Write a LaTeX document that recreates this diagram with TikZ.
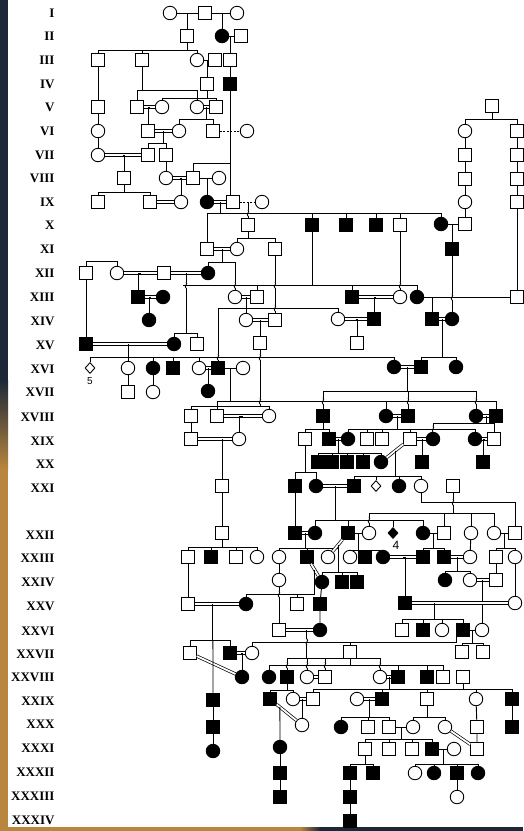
\documentclass[tikz,border=0pt]{standalone}
\usepackage{fontspec}
\setmainfont{Liberation Serif}
\newfontfamily\numfont{Liberation Sans}
\usetikzlibrary{positioning,calc,shapes.geometric}
\definecolor{frameblue}{HTML}{1C2838}
\definecolor{framebrown}{HTML}{B9863F}

\begin{document}
\begin{tikzpicture}[x=1pt,y=-1pt,line width=0.9pt,
  sq/.style={draw,fill=white,minimum size=12.5pt,inner sep=0pt},
  sqa/.style={sq,fill=black},
  ci/.style={draw,circle,fill=white,minimum size=13.5pt,inner sep=0pt},
  cia/.style={ci,fill=black},
  dia/.style={draw,diamond,fill=white,minimum width=10pt,minimum height=11pt,inner sep=0pt},
  diaa/.style={dia,fill=black},
  mar/.style={double,double distance=1.8pt,line width=0.7pt},
  maybe/.style={dash pattern=on 2pt off 1.5pt},
  hop/.pic={\fill[white] (-2.2,-3.2) rectangle (2.2,3.2);
    \draw (-2.6,0) -- (2.6,0);
    \draw (0,-3.2) .. controls (2.6,-1.2) and (-2.6,1.2) .. (0,3.2);},
  gen/.style={anchor=east,inner sep=0pt,font=\bfseries\fontsize{13}{13}\selectfont}]
\useasboundingbox (0,0) rectangle (523,831);
\fill[white] (0,0) rectangle (523,831);
\fill[frameblue] (0,0) rectangle (8,380);
\shade[top color=frameblue,bottom color=framebrown] (0,380) rectangle (8,470);
\fill[framebrown] (0,470) rectangle (8,831);
\fill[framebrown] (0,827) rectangle (300,831);
\shade[left color=framebrown,right color=frameblue] (300,827) rectangle (320,831);
\fill[frameblue] (320,827) rectangle (523,831);

\foreach \g/\y in {I/13,II/36,III/60,IV/84,V/107,VI/131,VII/155,VIII/178,IX/202,X/225,
  XI/249,XII/273,XIII/297,XIV/321,XV/345,XVI/369,XVII/392,XVIII/417,XIX/441,XX/464,XXI/488,
  XXII/535,XXIII/558,XXIV/582,XXV/606,XXVI/631,XXVII/654,XXVIII/677,XXIX/701,XXX/724,
  XXXI/748,XXXII/772,XXXIII/796,XXXIV/820}
  \node[gen] (g\g) at (55,\y) {\g};

\node[ci] (c1a) at (170,13) {};
\node[sq] (s1a) at (205,13) {};
\node[ci] (c1b) at (237,13) {};
\node[sq] (s2a) at (187,36) {};
\node[cia] (c2a) at (222,36) {};
\node[sq] (s2b) at (241,36) {};
\node[sq] (s3a) at (98,60) {};
\node[sq] (s3b) at (142,60) {};
\node[ci] (c3a) at (197,60) {};
\node[sq] (s3c) at (215,60) {};
\node[sq] (s3d) at (230,60) {};
\node[sq] (s4a) at (207,84) {};
\node[sqa] (s4b) at (230,84) {};
\node[sq] (s5a) at (98,107) {};
\node[sq] (s5b) at (137,107) {};
\node[ci] (c5a) at (162,107) {};
\node[ci] (c5b) at (197,107) {};
\node[sq] (s5c) at (216,107) {};
\node[sq] (s5d) at (492,106) {};
\node[ci] (c6a) at (98,131) {};
\node[sq] (s6a) at (148,131) {};
\node[ci] (c6b) at (179,131) {};
\node[sq] (s6b) at (213,131) {};
\node[ci] (c6c) at (247,131) {};
\node[ci] (c6d) at (465,131) {};
\node[sq] (s6c) at (517,131) {};
\node[ci] (c7a) at (98,155) {};
\node[sq] (s7a) at (148,155) {};
\node[sq] (s7b) at (166,155) {};
\node[sq] (s7c) at (465,155) {};
\node[sq] (s7d) at (517,155) {};
\node[sq] (s8a) at (124,178) {};
\node[ci] (c8a) at (166,178) {};
\node[sq] (s8b) at (193,178) {};
\node[ci] (c8b) at (219,178) {};
\node[sq] (s8c) at (465,179) {};
\node[sq] (s8d) at (517,179) {};
\node[sq] (s9a) at (98,202) {};
\node[sq] (s9b) at (150,202) {};
\node[ci] (c9a) at (181,202) {};
\node[cia] (c9b) at (207,202) {};
\node[sq] (s9c) at (233,202) {};
\node[ci] (c9c) at (262,202) {};
\node[ci] (c9d) at (465,202) {};
\node[sq] (s9d) at (517,202) {};
\node[sq] (s10a) at (248,225) {};
\node[sqa] (s10b) at (312,225) {};
\node[sqa] (s10c) at (346,225) {};
\node[sqa] (s10d) at (376,225) {};
\node[sq] (s10e) at (400,225) {};
\node[cia] (c10a) at (441,224) {};
\node[sq] (s10f) at (465,224) {};
\node[sq] (s11a) at (207,249) {};
\node[ci] (c11a) at (237,249) {};
\node[sq] (s11b) at (275,249) {};
\node[sqa] (s11c) at (452,249) {};
\node[sq] (s12a) at (86,273) {};
\node[ci] (c12a) at (117,273) {};
\node[sq] (s12b) at (164,273) {};
\node[cia] (c12b) at (208,273) {};
\node[sqa] (s13a) at (138,297) {};
\node[cia] (c13a) at (163,297) {};
\node[ci] (c13b) at (235,297) {};
\node[sq] (s13b) at (257,297) {};
\node[sqa] (s13c) at (352,297) {};
\node[ci] (c13c) at (400,297) {};
\node[cia] (c13d) at (417,297) {};
\node[sq] (s13d) at (517,297) {};
\node[cia] (c14a) at (149,320) {};
\node[ci] (c14b) at (246,320) {};
\node[sq] (s14a) at (275,320) {};
\node[ci] (c14c) at (338,319) {};
\node[sqa] (s14b) at (374,319) {};
\node[sqa] (s14c) at (432,319) {};
\node[cia] (c14d) at (452,319) {};
\node[sqa] (s15a) at (86,344) {};
\node[cia] (c15a) at (174,344) {};
\node[sq] (s15b) at (197,344) {};
\node[sq] (s15c) at (260,343) {};
\node[sq] (s15d) at (357,343) {};
\node[dia] (d16a) at (90,368) {};
\node[ci] (c16a) at (128,368) {};
\node[cia] (c16b) at (153,368) {};
\node[sqa] (s16a) at (173,368) {};
\node[ci] (c16c) at (199,368) {};
\node[sqa] (s16b) at (218,368) {};
\node[ci] (c16d) at (243,368) {};
\node[cia] (c16e) at (394,367) {};
\node[sqa] (s16c) at (421,367) {};
\node[cia] (c16f) at (456,367) {};
\node[sq] (s17a) at (128,392) {};
\node[ci] (c17a) at (153,392) {};
\node[cia] (c17b) at (208,391) {};
\node[sq] (s18a) at (191,416) {};
\node[sq] (s18b) at (217,416) {};
\node[ci] (c18a) at (269,416) {};
\node[sqa] (s18c) at (323,416) {};
\node[cia] (c18b) at (386,416) {};
\node[sqa] (s18d) at (408,416) {};
\node[cia] (c18c) at (476,416) {};
\node[sqa] (s18e) at (496,416) {};
\node[sq] (s19a) at (191,439) {};
\node[ci] (c19a) at (239,439) {};
\node[sq] (s19b) at (305,439) {};
\node[sqa] (s19c) at (329,439) {};
\node[cia] (c19b) at (348,439) {};
\node[sq] (s19d) at (367,439) {};
\node[sq] (s19e) at (382,439) {};
\node[sq] (s19f) at (410,439) {};
\node[cia] (c19c) at (433,439) {};
\node[cia] (c19d) at (475,439) {};
\node[sq] (s19g) at (494,439) {};
\node[sqa] (s20a) at (318,462) {};
\node[sqa] (s20b) at (332,462) {};
\node[sqa] (s20c) at (347,462) {};
\node[sqa] (s20d) at (363,462) {};
\node[cia] (c20a) at (381,462) {};
\node[sqa] (s20e) at (422,462) {};
\node[sqa] (s20f) at (483,462) {};
\node[sq] (s21a) at (222,486) {};
\node[sqa] (s21b) at (295,486) {};
\node[cia] (c21a) at (316,486) {};
\node[sqa] (s21c) at (354,486) {};
\node[dia] (d21a) at (376,486) {};
\node[cia] (c21b) at (399,486) {};
\node[ci] (c21c) at (421,486) {};
\node[sq] (s21d) at (453,486) {};
\node[sq] (s22a) at (222,533) {};
\node[sqa] (s22b) at (295,533) {};
\node[cia] (c22a) at (315,533) {};
\node[sqa] (s22c) at (348,533) {};
\node[ci] (c22b) at (369,533) {};
\node[diaa] (d22a) at (393,533) {};
\node[cia] (c22c) at (423,533) {};
\node[sq] (s22d) at (444,533) {};
\node[ci] (c22d) at (471,533) {};
\node[ci] (c22e) at (494,533) {};
\node[sq] (s22e) at (515,533) {};
\node[sq] (s23a) at (188,557) {};
\node[sqa] (s23b) at (211,557) {};
\node[sq] (s23c) at (236,557) {};
\node[ci] (c23a) at (257,557) {};
\node[ci] (c23b) at (279,557) {};
\node[sqa] (s23d) at (307,557) {};
\node[ci] (c23c) at (328,557) {};
\node[ci] (c23d) at (350,557) {};
\node[sqa] (s23e) at (365,557) {};
\node[cia] (c23e) at (383,557) {};
\node[sqa] (s23f) at (423,557) {};
\node[sqa] (s23g) at (444,557) {};
\node[ci] (c23f) at (470,557) {};
\node[sq] (s23h) at (496,557) {};
\node[ci] (c23g) at (515,557) {};
\node[ci] (c24a) at (279,580) {};
\node[cia] (c24b) at (322,582) {};
\node[sqa] (s24a) at (342,582) {};
\node[sqa] (s24b) at (357,582) {};
\node[cia] (c24c) at (445,580) {};
\node[ci] (c24d) at (470,580) {};
\node[sq] (s24c) at (496,580) {};
\node[sq] (s25a) at (188,604) {};
\node[cia] (c25a) at (246,604) {};
\node[sq] (s25b) at (297,604) {};
\node[sqa] (s25c) at (320,604) {};
\node[sqa] (s25d) at (405,603) {};
\node[ci] (c25b) at (515,603) {};
\node[sq] (s26a) at (279,630) {};
\node[cia] (c26a) at (320,630) {};
\node[sq] (s26b) at (402,630) {};
\node[sqa] (s26c) at (423,630) {};
\node[ci] (c26b) at (442,630) {};
\node[sqa] (s26d) at (463,630) {};
\node[ci] (c26c) at (482,630) {};
\node[sq] (s27a) at (190,653) {};
\node[sqa] (s27b) at (230,653) {};
\node[ci] (c27a) at (252,653) {};
\node[sq] (s27c) at (350,652) {};
\node[sq] (s27d) at (462,652) {};
\node[sq] (s27e) at (483,652) {};
\node[cia] (c28a) at (242,677) {};
\node[cia] (c28b) at (269,677) {};
\node[sqa] (s28a) at (287,677) {};
\node[ci] (c28c) at (307,677) {};
\node[sq] (s28b) at (325,677) {};
\node[ci] (c28d) at (380,677) {};
\node[sqa] (s28c) at (398,677) {};
\node[sqa] (s28d) at (427,677) {};
\node[sq] (s28e) at (443,677) {};
\node[sq] (s28f) at (463,677) {};
\node[sqa] (s29a) at (213,700) {};
\node[sqa] (s29b) at (270,699) {};
\node[ci] (c29a) at (293,699) {};
\node[sq] (s29c) at (313,699) {};
\node[ci] (c29b) at (357,699) {};
\node[sqa] (s29d) at (382,699) {};
\node[sq] (s29e) at (427,699) {};
\node[ci] (c29c) at (476,699) {};
\node[sqa] (s29f) at (512,699) {};
\node[sqa] (s30a) at (213,727) {};
\node[ci] (c30a) at (302,725) {};
\node[cia] (c30b) at (341,727) {};
\node[sq] (s30b) at (368,727) {};
\node[sq] (s30c) at (389,727) {};
\node[ci] (c30c) at (413,727) {};
\node[ci] (c30d) at (445,727) {};
\node[sq] (s30d) at (477,727) {};
\node[sqa] (s30e) at (512,727) {};
\node[cia] (c31a) at (213,751) {};
\node[cia] (c31b) at (280,747) {};
\node[sq] (s31a) at (365,749) {};
\node[sq] (s31b) at (389,749) {};
\node[sq] (s31c) at (412,749) {};
\node[sqa] (s31d) at (432,749) {};
\node[ci] (c31c) at (454,749) {};
\node[sq] (s31e) at (477,749) {};
\node[sqa] (s32a) at (280,773) {};
\node[sqa] (s32b) at (350,773) {};
\node[sqa] (s32c) at (373,773) {};
\node[ci] (c32a) at (415,773) {};
\node[cia] (c32b) at (434,773) {};
\node[sqa] (s32d) at (457,773) {};
\node[cia] (c32c) at (478,773) {};
\node[sqa] (s33a) at (280,797) {};
\node[sqa] (s33b) at (350,797) {};
\node[ci] (c33a) at (457,797) {};
\node[sqa] (s34a) at (350,821) {};
\node[inner sep=0pt,font=\numfont\fontsize{10}{10}\selectfont] (n5) at (90,381) {5};
\node[inner sep=0pt,font=\numfont\fontsize{12}{12}\selectfont] (n4) at (396,545) {4};

\coordinate (m12) at ($(s12b)!.5!(c12b)$);
\coordinate (m13) at ($(c13b)!.5!(s13b)$);
\coordinate (m16) at ($(c16e)!.5!(s16c)$);
\coordinate (m16b) at ($(s16b)!.5!(c16d)$);
\coordinate (m20) at ($(c20a)!.5!(s19f)$);
\coordinate (m22) at ($(s22c)!.5!(c23c)$);
\coordinate (m23) at ($(s23d)!.5!(c24b)$);
\coordinate (m25) at ($(s25d)!.27!(c25b)$);
\coordinate (m25a) at ($(s25a)!.43!(c25a)$);
\coordinate (m26) at ($(s26a)!.68!(c26a)$);
\coordinate (m29) at ($(s29b)!.31!(c30a)$);

\draw (c1a) -- (s1a) -- (c1b);
\draw (s2a) |- ($(c1a)!.5!(s1a)$);
\draw (c2a) |- ($(s1a)!.5!(c1b)$);
\draw (c2a) -- (s2b);
\draw (s3d) |- ($(c2a)!.5!(s2b)$);
\draw (s2a) -- (s2a |- 0,50);
\draw (s3a |- 0,50) -- (c3a |- 0,50);
\foreach \k in {s3a,s3b,c3a} \draw (\k) -- (\k |- 0,50);
\draw (c3a) -- (s3c);
\draw (s4a) |- ($(c3a)!.5!(s3c)$);
\draw (s3d) -- (s4b);
\draw (s3a) -- (s5a) -- (c6a) -- (c7a);
\draw (s3b) -- (s3b |- 0,90);
\draw (s5b |- 0,90) -- (c5b |- 0,90);
\foreach \k in {s5b,c5b} \draw (\k) -- (\k |- 0,90);
\draw (s4a) -- (s4a |- 0,98);
\draw (c5a |- 0,98) -- (s5c |- 0,98);
\foreach \k in {c5a,s5c} \draw (\k) -- (\k |- 0,98);
\draw[mar] (s5b) -- (c5a);
\draw[mar] (c5b) -- (s5c);
\draw (s6a) |- ($(s5b)!.5!(c5a)$);
\draw ($(c5b)!.5!(s5c)$) -- ++(0,12);
\draw (c6b |- 0,119) -- (s6b |- 0,119);
\foreach \k in {c6b,s6b} \draw (\k) -- (\k |- 0,119);
\draw (s4b) -- (s4b |- 0,163) -| (s8b);
\draw (s4b |- 0,163) -- (s4b |- s9c.north);
\draw[maybe] (s6b) -- (c6c);
\draw[mar] (s6a) -- (c6b);
\draw ($(s6a)!.5!(c6b)$) -- ++(0,12);
\draw (s7a |- 0,143) -- (s7b |- 0,143);
\foreach \k in {s7a,s7b} \draw (\k) -- (\k |- 0,143);
\draw[mar] (c7a) -- (s7a);
\draw (s8a) |- ($(c7a)!.5!(s7a)$);
\draw (s8a) -- (s8a |- 0,192);
\draw (s9a |- 0,192) -- (s9b |- 0,192);
\foreach \k in {s9a,s9b} \draw (\k) -- (\k |- 0,192);
\draw (s7b) -- (c8a);
\draw[mar] (c8a) -- (s8b);
\draw (c9a) |- ($(c8a)!.5!(s8b)$);
\draw (s8b) -- (c8b);
\draw (c9b) |- ($(s8b)!.5!(c8b)$);
\draw[mar] (s9b) -- (c9a);
\draw[mar] (c9b) -- (s9c);
\draw[maybe] (s9c) -- (c9c);

\draw (s5d) -- (s5d |- 0,119);
\draw (c6d |- 0,119) -- (s6c |- 0,119);
\foreach \k in {c6d,s6c} \draw (\k) -- (\k |- 0,119);
\draw (c6d) -- (s7c) -- (s8c) -- (c9d) -- (s10f);
\draw (s6c) -- (s7d) -- (s8d) -- (s9d) -- (s13d);

\draw ($(c9b)!.5!(s9c)$) -- ++(0,11);
\draw (s11a |- 0,213) -- (c10a |- 0,213);
\foreach \k in {s11a,s10b,s10c,s10d,s10e,c10a} \draw (\k) -- (\k |- 0,213);
\draw (s10a) |- ($(s9c)!.5!(c9c)$);
\draw (s10a) -- (s10a |- 0,238);
\draw (c11a |- 0,238) -- (s11b |- 0,238);
\foreach \k in {c11a,s11b} \draw (\k) -- (\k |- 0,238);
\draw (c10a) -- (s10f);
\draw (s11c) |- ($(c10a)!.5!(s10f)$);
\draw (s11c) -- (c14d);

\draw[mar] (s11a) -- (c11a);
\draw ($(s11a)!.5!(c11a)$) -- ++(0,13);
\draw (c12b |- 0,262) -- (c13b |- 0,262);
\foreach \k in {c12b,c13b} \draw (\k) -- (\k |- 0,262);
\draw (s12a) -- (s12a |- 0,261) -- (c12a |- 0,261) -- (c12a);
\draw[mar] (c12a) -- (s12b);
\draw[mar] (s12b) -- (c12b);
\draw (s13a) |- ($(c12a)!.5!(s12b)$);
\draw[mar] (s13a) -- (c13a);
\draw (c14a) |- ($(s13a)!.5!(c13a)$);
\draw (s12a) -- (s15a);
\draw (m12) -- (m12 |- 0,333);
\draw (c15a |- 0,333) -- (s15b |- 0,333);
\foreach \k in {c15a,s15b} \draw (\k) -- (\k |- 0,333);

\draw (s10b) -- (s10b |- 0,285);
\draw (m12 |- 0,285) -- (c13d |- 0,285);
\foreach \k in {s13b,s13c,c13d} \draw (\k) -- (\k |- 0,285);
\draw (s10e) -- (c13c);
\draw[mar] (c13b) -- (s13b);
\draw[mar] (s13c) -- (c13c);
\draw (s14b) |- ($(s13c)!.5!(c13c)$);
\draw (c13d) -- (s13d);
\draw (s14c) |- (c13d);
\draw (m13) -- (c14b);
\draw (s16b |- 0,308) -- (c14c |- 0,308);
\foreach \k in {s16b,c14c} \draw (\k) -- (\k |- 0,308);
\draw (s11b) -- (s14a);
\draw[mar] (c14b) -- (s14a);
\draw (s15c) |- ($(c14b)!.5!(s14a)$);
\draw[mar] (c14c) -- (s14b);
\draw (s15d) |- ($(c14c)!.5!(s14b)$);
\draw[mar] (s14c) -- (c14d);
\draw ($(s14c)!.5!(c14d)$) -- ++(0,38);
\draw (s16c |- 0,357) -- (c16f |- 0,357);
\foreach \k in {s16c,c16f} \draw (\k) -- (\k |- 0,357);

\draw[mar] (s15a) -- (c15a);
\draw (c16a |- s15a) -- (c16a |- 0,357);
\draw (d16a |- 0,357) -- (c16e |- 0,357);
\foreach \k in {d16a,c16a,c16b,s16a,c16c,c16e} \draw (\k) -- (\k |- 0,357);
\draw[mar] (c16c) -- (s16b);
\draw (c17b) |- ($(c16c)!.5!(s16b)$);
\draw (s16b) -- (c16d);
\draw[mar] (c16e) -- (s16c);
\draw (c16a) -- (s17a);
\draw (c16b) -- (c17a);

\draw (m16) -- (m16 |- 0,391);
\draw (s18c |- 0,391) -- (c18c |- 0,391);
\foreach \k in {s18c,s18d,c18c} \draw (\k) -- (\k |- 0,391);
\draw (m16b) -- (m16b |- 0,401);
\draw (s15c) -- (s15c |- 0,406);
\draw (s18a |- 0,406) -- (c18a |- 0,406);
\foreach \k in {s18a,s18b,c18a} \draw (\k) -- (\k |- 0,406);
\draw (s18b |- 0,406) -- (s18b |- 0,401) -- (s18e |- 0,401);
\foreach \k in {c18b,s18e} \draw (\k) -- (\k |- 0,401);
\draw[mar] (s18b) -- (c18a);
\draw (c19a) |- ($(s18b)!.5!(c18a)$);
\draw (s18a) -- (s19a);
\draw[mar] (s19a) -- (c19a);
\draw (s21a) -- (s21a |- s19a);
\draw (s21a) -- (s22a);
\draw (s22a) -- (s22a |- 0,547);
\draw (s23a |- 0,547) -- (c23a |- 0,547);
\foreach \k in {s23a,s23b,s23c,c23a} \draw (\k) -- (\k |- 0,547);

\draw (s18c) -- (s18c |- 0,429);
\draw (s19b |- 0,429) -- (s19c |- 0,429);
\foreach \k in {s19b,s19c} \draw (\k) -- (\k |- 0,429);
\draw[mar] (c18b) -- (s18d);
\draw ($(c18b)!.5!(s18d)$) -- ++(0,13);
\draw (c19b |- 0,429) -- (c19d |- 0,429);
\foreach \k in {c19b,s19d,s19e,s19f,c19d} \draw (\k) -- (\k |- 0,429);
\draw[mar] (c18c) -- (s18e);
\draw ($(c18c)!.5!(s18e)$) -- ++(0,7);
\draw (c19c |- 0,423) -- (s19g |- 0,423);
\foreach \k in {c19c,s19g} \draw (\k) -- (\k |- 0,423);
\draw[mar] (s19c) -- (c19b);
\draw ($(s19c)!.5!(c19b)$) -- ++(0,14);
\draw (s20a |- 0,453) -- (c20a |- 0,453);
\foreach \k in {s20a,s20b,s20c,s20d,c20a} \draw (\k) -- (\k |- 0,453);
\draw[mar] (c20a) -- (s19f);
\draw[mar] (s19f) -- (c19c);
\draw (s20e) |- ($(s19f)!.5!(c19c)$);
\draw[mar] (c19d) -- (s19g);
\draw (s20f) |- ($(c19d)!.5!(s19g)$);

\draw (m20) -- (m20 |- 0,476);
\draw (s21c |- 0,476) -- (c21c |- 0,476);
\foreach \k in {s21c,d21a,c21b,c21c} \draw (\k) -- (\k |- 0,476);
\draw (s19b) -- (s19b |- 0,472);
\draw (s21b |- 0,472) -- (c21a |- 0,472);
\foreach \k in {s21b,c21a} \draw (\k) -- (\k |- 0,472);
\draw[mar] (c21a) -- (s21c);
\draw (s21b) -- (s22b);
\draw ($(c21a)!.5!(s21c)$) -- ++(0,34);
\draw (c22a |- 0,520) -- (c22c |- 0,520);
\foreach \k in {c22a,s22c,d22a,c22c} \draw (\k) -- (\k |- 0,520);
\draw (s21d) -- (s21d |- 0,513);
\draw (c22b |- 0,513) -- (c22e |- 0,513);
\foreach \k in {c22b,s22d,c22d,c22e} \draw (\k) -- (\k |- 0,513);
\draw (c21c) |- (s22e |- 0,502) -- (s22e);

\draw[mar] (s22b) -- (c22a);
\draw ($(s22b)!.5!(c22a)$) -- ++(0,15);
\draw (c23b |- 0,548) -- (m22 |- 0,548);
\foreach \k in {c23b,s23d} \draw (\k) -- (\k |- 0,548);
\draw[mar] (s22c) -- (c23c);
\draw (m22) -- (m22 |- 0,572);
\draw (c24b |- 0,572) -- (s24b |- 0,572);
\foreach \k in {c24b,s24a,s24b} \draw (\k) -- (\k |- 0,572);
\draw (s22c) -- (c22b);
\draw ($(s22c)!.5!(c22b)$) -- ++(0,17);
\draw (c23d |- 0,550) -- (c23e |- 0,550);
\foreach \k in {c23d,s23e,c23e} \draw (\k) -- (\k |- 0,550);
\draw (c22c) -- (s22d);
\draw ($(c22c)!.5!(s22d)$) -- ++(0,15);
\draw (s23f |- 0,548) -- (s23g |- 0,548);
\foreach \k in {s23f,s23g} \draw (\k) -- (\k |- 0,548);
\draw (c22d) -- (c23f);
\draw (c22e) -- (s22e);
\draw ($(c22e)!.5!(s22e)$) -- ++(0,15);
\draw (s23h |- 0,548) -- (c23g |- 0,548);
\foreach \k in {s23h,c23g} \draw (\k) -- (\k |- 0,548);

\draw (c23b) -- (c24a) -- (s26a);
\draw[mar] (s23d) -- (c24b);
\draw (m23) -- (m23 |- 0,594);
\draw (c25a |- 0,594) -- (m23 |- 0,594);
\foreach \k in {c25a,s25b} \draw (\k) -- (\k |- 0,594);
\draw (c24b) -- (s25c) -- (c26a);
\draw[mar] (c23e) -- (s23f);
\draw (s25d) |- ($(c23e)!.5!(s23f)$);
\draw[mar] (s23g) -- (c23f);
\draw ($(s23g)!.5!(c23f)$) -- ++(0,14);
\draw (c24c |- 0,571) -- (c24d |- 0,571);
\foreach \k in {c24c,c24d} \draw (\k) -- (\k |- 0,571);
\draw (s23h) -- (s24c);
\draw (c23g) -- (c25b);
\draw[mar] (c24d) -- (s24c);
\draw (c26c) |- ($(c24d)!.5!(s24c)$);

\draw (s23a) -- (s25a);
\draw[mar] (s25a) -- (c25a);
\draw[mar] (s25d) -- (c25b);
\draw (m25) -- (m25 |- 0,619);
\draw (s26b |- 0,619) -- (s26d |- 0,619);
\foreach \k in {s26b,s26c,c26b,s26d} \draw (\k) -- (\k |- 0,619);
\draw[mar] (s26a) -- (c26a);
\draw (s26d) -- (c26c);
\draw ($(s26d)!.5!(c26c)$) -- ++(0,13);
\draw (s27d |- 0,643) -- (s27e |- 0,643);
\foreach \k in {s27d,s27e} \draw (\k) -- (\k |- 0,643);

\draw (m25a) -- (m25a |- 0,640);
\draw (s27a |- 0,640) -- (s27b |- 0,640);
\foreach \k in {s27a,s27b} \draw (\k) -- (\k |- 0,640);
\draw[mar] (s27b) -- (c27a);
\draw (c28a) |- ($(s27b)!.5!(c27a)$);
\draw[mar] (s27a) -- (c28a);
\draw (m25a |- 0,640) -- (s29a);
\draw (s26d.south west) -- (s26d.south west |- 0,642) -- (c27a |- 0,642) -- (c27a);
\draw (s27c) -- (s27c |- 0,642);
\draw (m26) -- (m26 |- 0,658);
\draw (s28a |- 0,658) -- (c28d |- 0,658);
\foreach \k in {s28a,c28c,s28b,c28d} \draw (\k) -- (\k |- 0,658);
\draw (s27c) -- (s27c |- 0,665);
\draw (c28b |- 0,665) -- (s28e |- 0,665);
\foreach \k in {c28b,s28c,s28d,s28e} \draw (\k) -- (\k |- 0,665);

\draw[mar] (c28c) -- (s28b);
\draw[mar] (c28d) -- (s28c);
\draw (s28a) -- (s28a |- 0,690);
\draw (s29b |- 0,690) -- (c29a |- 0,690);
\foreach \k in {s29b,c29a} \draw (\k) -- (\k |- 0,690);
\draw ($(c28d)!.5!(s28c)$) -- ++(0,12);
\draw (s29c |- 0,689) -- (s29f |- 0,689);
\foreach \k in {s29c,s29d,s29e,c29c,s29f} \draw (\k) -- (\k |- 0,689);
\draw (s28f) -- (s28f |- 0,689);
\draw[mar] (c29a) -- (s29c);
\draw (c30a) |- ($(c29a)!.5!(s29c)$);
\draw[mar] (s29b) -- (c30a);
\draw (c31b) -- (m29);
\draw (c31b) -- (s32a) -- (s33a);
\draw (s29a) -- (s30a) -- (c31a);
\draw[mar] (c29b) -- (s29d);
\draw ($(c29b)!.5!(s29d)$) -- ++(0,18);
\draw (c30b |- 0,717) -- (s30c |- 0,717);
\foreach \k in {c30b,s30b,s30c} \draw (\k) -- (\k |- 0,717);
\draw (s29e) -- (s29e |- 0,717);
\draw (c30c |- 0,717) -- (c30d |- 0,717);
\foreach \k in {c30c,c30d} \draw (\k) -- (\k |- 0,717);
\draw (c29c) -- (s30d) -- (s31e);
\draw (s29f) -- (s30e);
\draw[mar] (c30d) -- (s31e);
\draw (s30c) -- (c30c);
\draw ($(s30c)!.5!(c30c)$) -- ++(0,12);
\draw (s31a |- 0,739) -- (s31d |- 0,739);
\foreach \k in {s31a,s31b,s31c,s31d} \draw (\k) -- (\k |- 0,739);
\draw (s31d) -- (c31c);
\draw ($(s31d)!.5!(c31c)$) -- ++(0,15);
\draw (c32a |- 0,764) -- (c32c |- 0,764);
\foreach \k in {c32a,c32b,s32d,c32c} \draw (\k) -- (\k |- 0,764);
\draw (s32d) -- (c33a);
\draw (s31a) -- (s31a |- 0,764);
\draw (s32b |- 0,764) -- (s32c |- 0,764);
\foreach \k in {s32b,s32c} \draw (\k) -- (\k |- 0,764);
\draw (s32b) -- (s33b) -- (s34a);

\pic at (s10a |- 0,213) {hop};
\pic at (m12 |- 0,285) {hop};
\pic at (c13b |- 0,285) {hop};
\pic at (s11b |- 0,285) {hop};
\pic at (s11b |- 0,308) {hop};
\pic at (c13c |- 0,285) {hop};
\pic at (s11c |- c13d) {hop};
\pic at (s16b |- 0,357) {hop};
\pic at (s15c |- 0,357) {hop};
\pic at (s15c |- 0,401) {hop};
\pic at (s18c |- 0,401) {hop};
\pic at (s18d |- 0,401) {hop};
\pic at (c18c |- 0,401) {hop};
\pic at (c19c |- 0,429) {hop};
\pic at (c22b |- 0,520) {hop};
\pic at (s21d |- 0,502) {hop};
\pic at (c24a |- 0,594) {hop};
\pic at (m26 |- 0,642) {hop};
\pic at (s28a |- 0,665) {hop};
\pic at (c28c |- 0,665) {hop};
\pic at (s28b |- 0,665) {hop};
\pic at (c28d |- 0,665) {hop};
\end{tikzpicture}
\end{document}
